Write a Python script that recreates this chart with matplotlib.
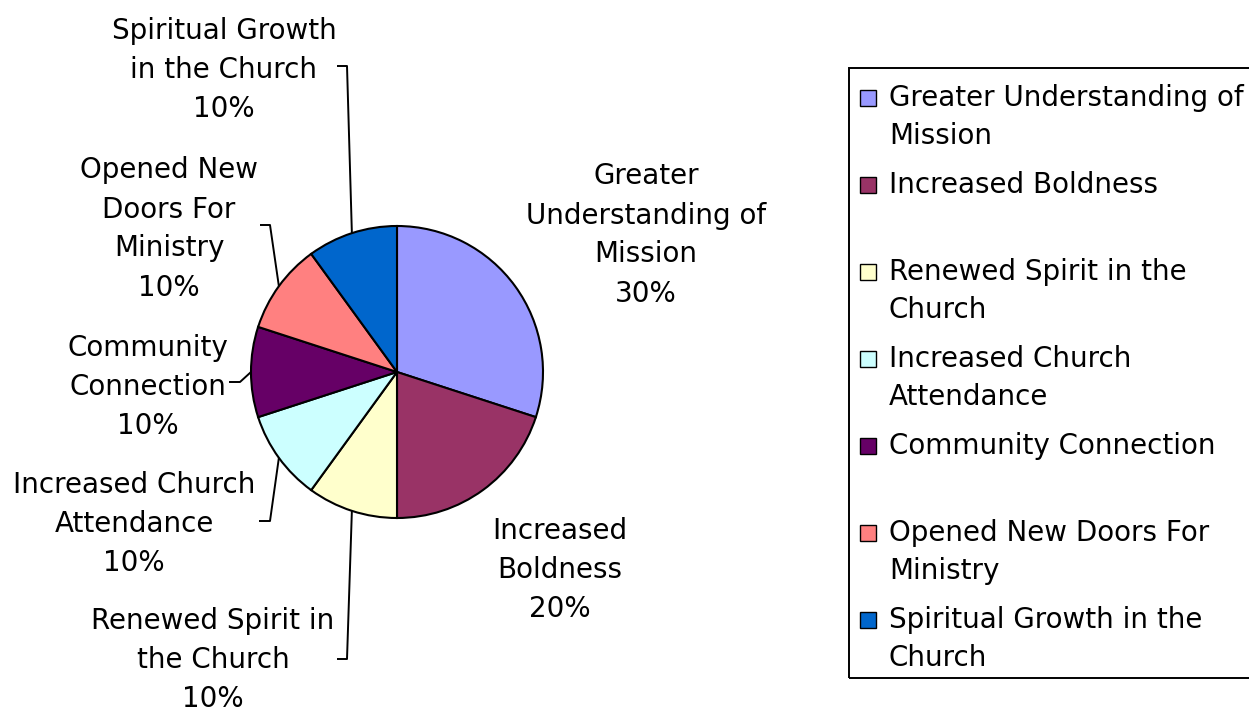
import numpy as np
import matplotlib.pyplot as plt
from matplotlib.patches import Rectangle

# ------------------------ DATA ------------------------

categories = [
    "Greater Understanding of Mission",
    "Increased Boldness",
    "Renewed Spirit in the Church",
    "Increased Church Attendance",
    "Community Connection",
    "Opened New Doors For Ministry",
    "Spiritual Growth in the Church",
]
shares = [30, 20, 10, 10, 10, 10, 10]
colors = ["#9999FF", "#993366", "#FFFFCC", "#CCFFFF", "#660066", "#FF8080", "#0066CC"]

# wrapped forms used next to the pie and inside the legend
slice_labels = [
    "Greater\nUnderstanding of\nMission",
    "Increased\nBoldness",
    "Renewed Spirit in\nthe Church",
    "Increased Church\nAttendance",
    "Community\nConnection",
    "Opened New\nDoors For\nMinistry",
    "Spiritual Growth\nin the Church",
]
legend_labels = [
    "Greater Understanding of\nMission",
    "Increased Boldness",
    "Renewed Spirit in the\nChurch",
    "Increased Church\nAttendance",
    "Community Connection",
    "Opened New Doors For\nMinistry",
    "Spiritual Growth in the\nChurch",
]

# ------------------------ LAYOUT (pixels, measured from top) ------------------------

W, H = 1249, 712
FONT_SIZE = 20
CENTER = (397, H - 372)
RADIUS = 146

LABEL_POS = [(646, 232), (560, 567), (213, 657), (134, 521), (148, 384), (169, 226), (224, 67)]
LEADER_ELBOWS = [
    None,
    None,
    [(347, 659), (337, 659)],
    [(270, 521), (259, 521)],
    [(240, 382), (229, 382)],
    [(270, 225), (260, 225)],
    [(347, 66), (337, 66)],
]
LABEL_LINE_STEP = 39

LEGEND_BOX = (849, 68, 1262, 678)
LEGEND_FIRST_BASELINE = 106
LEGEND_STEP = 87
LEGEND_LINE_STEP = 38


def draw_pie(ax):
    wedges, _ = ax.pie(
        shares, colors=colors, startangle=90, counterclock=False,
        center=CENTER, radius=RADIUS,
        wedgeprops=dict(edgecolor="black", linewidth=1.5),
    )
    ax.set_xlim(0, W)
    ax.set_ylim(0, H)
    return wedges


def draw_slice_labels(ax, wedges):
    for wedge, label, share, pos, elbows in zip(wedges, slice_labels, shares, LABEL_POS, LEADER_ELBOWS):
        lines = f"{label}\n{share}%".split("\n")
        top = pos[1] - (len(lines) - 1) * LABEL_LINE_STEP / 2
        for j, line in enumerate(lines):
            ax.text(pos[0], H - (top + j * LABEL_LINE_STEP), line, ha="center",
                    va="center_baseline", fontsize=FONT_SIZE)
        if elbows is None:
            continue
        # leader line starts on the rim at the middle of the slice
        mid = np.deg2rad((wedge.theta1 + wedge.theta2) / 2)
        xs = [CENTER[0] + RADIUS * np.cos(mid)] + [p[0] for p in elbows]
        ys = [CENTER[1] + RADIUS * np.sin(mid)] + [H - p[1] for p in elbows]
        ax.plot(xs, ys, color="black", linewidth=1.4, solid_capstyle="butt")


def draw_legend(ax):
    x0, y0, x1, y1 = LEGEND_BOX
    ax.add_patch(Rectangle((x0, H - y1), x1 - x0, y1 - y0, fill=False,
                           edgecolor="black", linewidth=1.4, clip_on=False))
    for i, (label, color) in enumerate(zip(legend_labels, colors)):
        base = LEGEND_FIRST_BASELINE + i * LEGEND_STEP
        ax.add_patch(Rectangle((860, H - base), 16, 16, facecolor=color,
                               edgecolor="black", linewidth=1.0))
        for j, line in enumerate(label.split("\n")):
            ax.text(889, H - (base + j * LEGEND_LINE_STEP), line, ha="left",
                    va="baseline", fontsize=FONT_SIZE)


def main():
    fig = plt.figure(figsize=(W / 100, H / 100), dpi=100)
    ax = fig.add_axes([0, 0, 1, 1])
    wedges = draw_pie(ax)
    draw_slice_labels(ax, wedges)
    draw_legend(ax)
    ax.axis("off")
    fig.savefig("out.png", dpi=100, facecolor="white")
    plt.close(fig)


if __name__ == "__main__":
    main()
